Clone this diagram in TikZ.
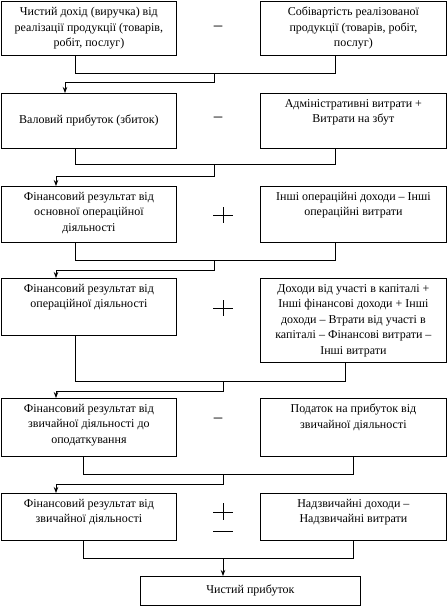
\documentclass[tikz,border=0pt]{standalone}
\usepackage{fontspec}
\setmainfont{Liberation Serif}
\usetikzlibrary{calc,arrows.meta}

\begin{document}
\begin{tikzpicture}[x=1pt,y=-1pt,
		box/.style={draw, anchor=north west, inner sep=0pt, line width=0.8pt,
			font=\fontsize{12}{15.5}\selectfont},
		lbox/.style={box, minimum width=175pt},
		rbox/.style={box, minimum width=186pt},
		txt/.style={anchor=north, align=center, inner sep=0pt, yshift=-6pt,
			font=\fontsize{12}{15.5}\selectfont},
		line/.style={line width=0.8pt},
		arr/.style={line, -{Stealth[length=6pt,width=4.5pt]}},
		sign/.style={inner sep=0pt, font=\fontsize{17}{17}\selectfont}]
		\useasboundingbox (0,0) rectangle (447,606);

		% boxes
		\node[lbox, minimum height=54pt] (vd) at (1,1) {};
		\node[rbox, minimum height=54pt] (sv) at (260,1) {};
		\node[lbox, minimum height=55pt] (vp) at (1,93) {Валовий прибуток (збиток)};
		\node[rbox, minimum height=55pt] (av) at (260,93) {};
		\node[lbox, minimum height=56pt] (fo) at (1,186) {};
		\node[rbox, minimum height=56pt] (io) at (260,186) {};
		\node[lbox, minimum height=57pt] (fd) at (1,278) {};
		\node[rbox, minimum height=84pt] (dk) at (260,278) {};
		\node[lbox, minimum height=58pt] (fz) at (1,398) {};
		\node[rbox, minimum height=58pt] (pp) at (260,398) {};
		\node[lbox, minimum height=47pt] (fr) at (1,493) {};
		\node[rbox, minimum height=47pt] (nd) at (260,493) {};
		\node[box, minimum width=220pt, minimum height=29pt] (cp) at (140,576) {Чистий прибуток};

		% texts
		\node[txt] at (vd.north) {Чистий дохід (виручка) від\\реалізації продукції (товарів,\\робіт, послуг)};
		\node[txt] at (sv.north) {Собівартість реалізованої\\продукції (товарів, робіт,\\послуг)};
		\node[txt] at (av.north) {Адміністративні витрати +\\Витрати на збут};
		\node[txt] at (fo.north) {Фінансовий результат від\\основної операційної\\діяльності};
		\node[txt] at (io.north) {Інші операційні доходи – Інші\\операційні витрати};
		\node[txt] at (fd.north) {Фінансовий результат від\\операційної діяльності};
		\node[txt] at (dk.north) {Доходи від участі в капіталі +\\Інші фінансові доходи + Інші\\доходи – Втрати від участі в\\капіталі – Фінансові витрати –\\Інші витрати};
		\node[txt] at (fz.north) {Фінансовий результат від\\звичайної діяльності до\\оподаткування};
		\node[txt] at (pp.north) {Податок на прибуток від\\звичайної діяльності};
		\node[txt] at (fr.north) {Фінансовий результат від\\звичайної діяльності};
		\node[txt] at (nd.north) {Надзвичайні доходи –\\Надзвичайні витрати};

		% signs
		\node[sign] (s1) at (218,28) {–};
		\node[sign] (s2) at (218,119) {–};
		\node[sign] (s5) at (218,420) {–};
		\coordinate (p3) at (223,215);
		\coordinate (p4) at (223,308);
		\coordinate (p6) at (223,512);
		\draw[line] ($(p3)+(-10,0)$) -- ($(p3)+(10,0)$) ($(p3)+(0,-8)$) -- ($(p3)+(0,8)$);
		\draw[line] ($(p4)+(-10,0)$) -- ($(p4)+(10,0)$) ($(p4)+(0,-8)$) -- ($(p4)+(0,8)$);
		\draw[line] ($(p6)+(-10,0)$) -- ($(p6)+(10,0)$) ($(p6)+(0,-9)$) -- ($(p6)+(0,8)$);
		\draw[line] ($(p6)+(-10,19)$) -- ($(p6)+(10,19)$);

		% connectors
		\coordinate (j1l) at (75,73);  \coordinate (j1r) at (335,73);
		\coordinate (m1) at (214,73);  \coordinate (t1) at (65,82);
		\draw[line] (j1l |- vd.south) -- (j1l) -- (j1r) -- (j1r |- sv.south);
		\draw[arr] (m1) |- (t1) -- (t1 |- vp.north);

		\coordinate (j2l) at (75,164); \coordinate (j2r) at (335,164);
		\coordinate (m2) at (214,164); \coordinate (t2) at (56,176);
		\draw[line] (j2l |- vp.south) -- (j2l) -- (j2r) -- (j2r |- av.south);
		\draw[arr] (m2) |- (t2) -- (t2 |- fo.north);

		\coordinate (j3l) at (75,260); \coordinate (j3r) at (335,260);
		\coordinate (m3) at (214,260); \coordinate (t3) at (56,270);
		\draw[line] (j3l |- fo.south) -- (j3l) -- (j3r) -- (j3r |- io.south);
		\draw[arr] (m3) |- (t3) -- (t3 |- fd.north);

		\coordinate (j4l) at (75,381); \coordinate (j4r) at (345,381);
		\coordinate (m4) at (223,381); \coordinate (t4) at (56,391);
		\draw[line] (j4l |- fd.south) -- (j4l) -- (j4r) -- (j4r |- dk.south);
		\draw[arr] (m4) |- (t4) -- (t4 |- fz.north);

		\coordinate (j5l) at (83,474); \coordinate (j5r) at (353,474);
		\coordinate (m5) at (223,474); \coordinate (t5) at (56,484);
		\draw[line] (j5l |- fz.south) -- (j5l) -- (j5r) -- (j5r |- pp.south);
		\draw[arr] (m5) |- (t5) -- (t5 |- fr.north);

		\coordinate (j6l) at (83,558); \coordinate (j6r) at (353,558);
		\coordinate (m6) at (223,558);
		\draw[line] (j6l |- fr.south) -- (j6l) -- (j6r) -- (j6r |- nd.south);
		\draw[arr] (m6) -- (m6 |- cp.north);

	\end{tikzpicture}
\end{document}
